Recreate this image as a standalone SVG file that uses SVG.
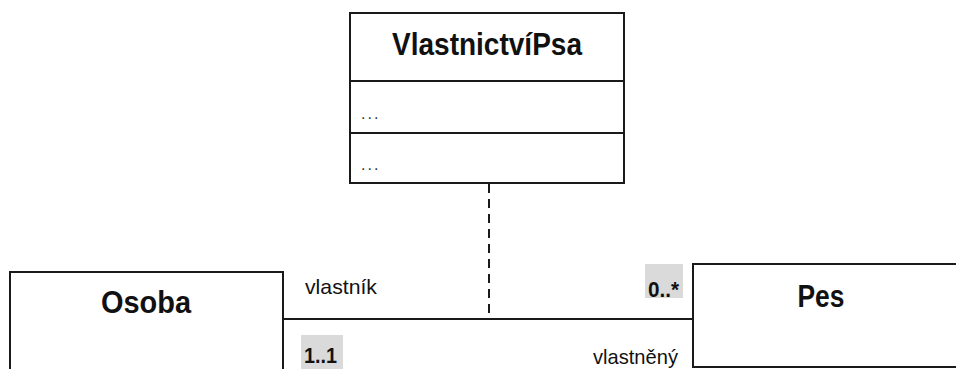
<svg xmlns="http://www.w3.org/2000/svg" width="956" height="369" viewBox="0 0 956 369">
<style>
.box{fill:#fff;stroke:#1a1a1a;stroke-width:2}
.title{font-family:"Liberation Sans",Arial,sans-serif;font-size:32px;font-weight:bold;fill:#111;text-anchor:middle}
.lbl{font-family:"Liberation Sans",Arial,sans-serif;font-size:21px;fill:#111}
.mult{font-family:"Liberation Sans",Arial,sans-serif;font-size:22px;font-weight:bold;fill:#111}
.dots{font-family:"Liberation Sans",Arial,sans-serif;font-size:16px;fill:#333;letter-spacing:2px}
.hl{fill:#dadada}
.line{stroke:#1a1a1a;stroke-width:2;fill:none}
</style>
<rect width="956" height="369" fill="#fff"/>
<g id="connectors">
<line class="line" x1="283" y1="319" x2="693" y2="319"/>
<line class="line" x1="489" y1="184" x2="489" y2="319" stroke-dasharray="9,6"/>
</g>
<g id="VlastnictviPsa">
<rect class="box" x="350" y="13" width="274" height="170"/>
<line class="line" x1="350" y1="81" x2="624" y2="81"/>
<line class="line" x1="350" y1="133" x2="624" y2="133"/>
<text class="title" x="487" y="55" textLength="190" lengthAdjust="spacingAndGlyphs">VlastnictvíPsa</text>
<text class="dots" x="361" y="119">...</text>
<text class="dots" x="361" y="170">...</text>
</g>
<g id="Osoba">
<rect class="box" x="10" y="272" width="273" height="110"/>
<text class="title" x="146" y="313" textLength="90" lengthAdjust="spacingAndGlyphs">Osoba</text>
</g>
<g id="Pes">
<rect class="box" x="693" y="264" width="280" height="103"/>
<text class="title" x="821" y="307" textLength="47" lengthAdjust="spacingAndGlyphs">Pes</text>
</g>
<g id="labels">
<text class="lbl" x="305" y="294" textLength="72" lengthAdjust="spacingAndGlyphs">vlastník</text>
<rect class="hl" x="301" y="335" width="42" height="34"/>
<text class="mult" x="304" y="363" textLength="33" lengthAdjust="spacingAndGlyphs">1..1</text>
<rect class="hl" x="645" y="264" width="38" height="34"/>
<text class="mult" x="648" y="297" textLength="31" lengthAdjust="spacingAndGlyphs">0..*</text>
<text class="lbl" x="593" y="364" textLength="85" lengthAdjust="spacingAndGlyphs">vlastněný</text>
</g>
</svg>
